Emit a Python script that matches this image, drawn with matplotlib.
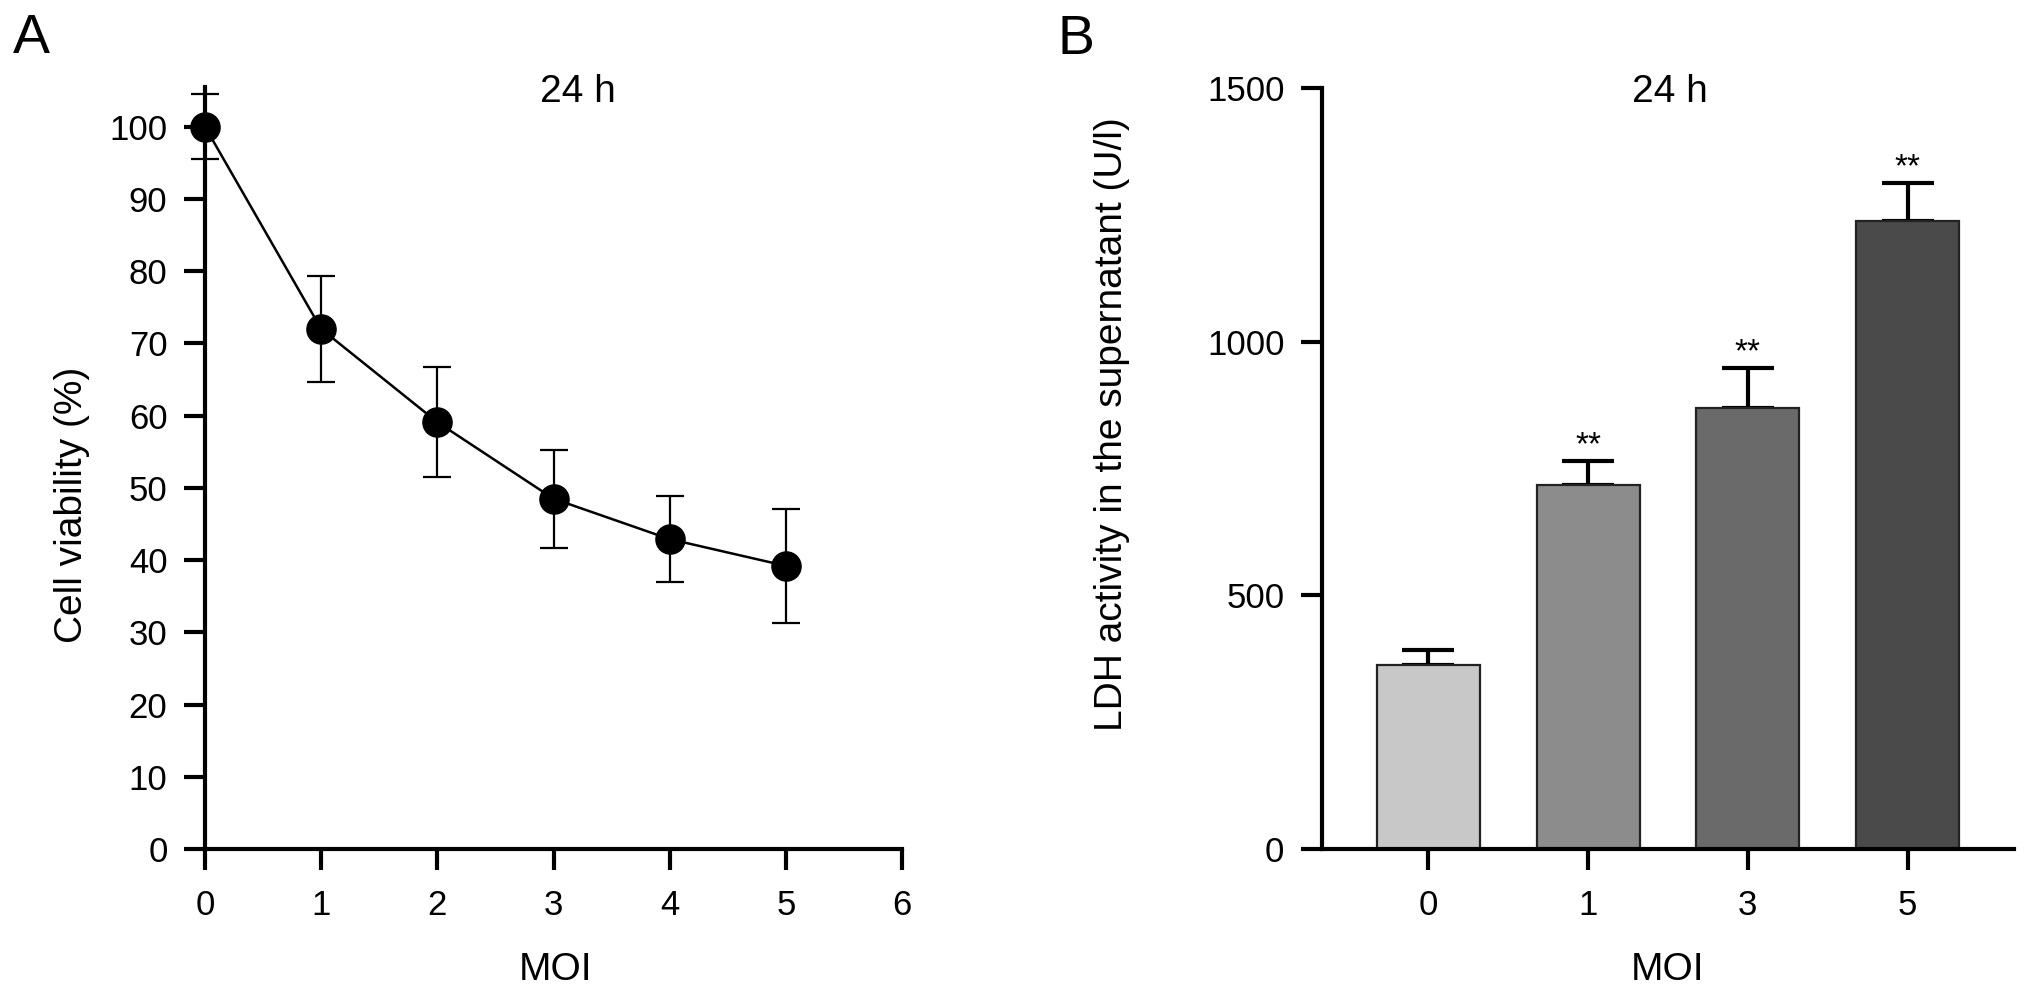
import matplotlib
matplotlib.use("Agg")
import matplotlib.pyplot as plt

plt.rcParams['font.family'] = ['Liberation Sans', 'DejaVu Sans']

# panel A: cell viability vs MOI
moi_a = [0, 1, 2, 3, 4, 5]
viability = [100.0, 72.0, 59.1, 48.5, 42.9, 39.2]
viability_err = [4.5, 7.4, 7.6, 6.8, 6.0, 7.9]

# panel B: LDH activity
moi_b = ['0', '1', '3', '5']
ldh = [362, 717, 869, 1238]
ldh_err = [30, 47, 79, 74]
bar_colors = ['#c8c8c8', '#8c8c8c', '#6a6a6a', '#4a4a4a']
stars = ['', '**', '**', '**']

W, H = 2032, 996
fig = plt.figure(figsize=(W / 100, H / 100), dpi=100)

FS = 25
LFS = 28
SPINE = 3.0


def style_axes(ax):
    for s in ['top', 'right']:
        ax.spines[s].set_visible(False)
    for s in ['left', 'bottom']:
        ax.spines[s].set_linewidth(SPINE)
    ax.tick_params(direction='out', length=15, width=SPINE, labelsize=FS, pad=12)
    ax.tick_params(axis='x', pad=14)


# ---- A ----
axA = fig.add_axes([205 / W, 1 - 849 / H, (902 - 205) / W, (849 - 87) / H])
axA.errorbar(moi_a, viability, yerr=viability_err, color='black', lw=1.8,
             marker='o', markersize=21, elinewidth=1.6, capsize=10, capthick=1.6,
             clip_on=False, zorder=3)
axA.set_xlim(0, 6)
axA.set_ylim(0, 105.5)
axA.set_xticks(range(0, 7))
axA.set_yticks(range(0, 101, 10))
style_axes(axA)

# ---- B ----
axB = fig.add_axes([1322 / W, 1 - 849 / H, (2014 - 1322) / W, (849 - 88) / H])
xb = range(len(moi_b))
axB.bar(xb, ldh, width=0.645, color=bar_colors, edgecolor='#222222', linewidth=1.6, zorder=2)
axB.errorbar(xb, ldh, yerr=[[0] * len(ldh), ldh_err], fmt='none', ecolor='black',
             elinewidth=3, capsize=18.5, capthick=3, zorder=1)
for i, s in enumerate(stars):
    if s:
        axB.annotate(s, (i, ldh[i] + ldh_err[i]), xytext=(0, 5), textcoords='offset points',
                     ha='center', va='baseline', fontsize=24)
axB.set_xlim(-0.667, 3.667)
axB.set_ylim(0, 1500)
axB.set_xticks(list(xb))
axB.set_xticklabels(moi_b)
axB.set_yticks([0, 500, 1000, 1500])
style_axes(axB)

# titles, labels
fig.text(578 / W, 1 - 92 / H, '24 h', ha='center', va='center', fontsize=LFS)
fig.text(1670 / W, 1 - 92 / H, '24 h', ha='center', va='center', fontsize=LFS)
fig.text(72 / W, 1 - 505 / H, 'Cell viability (%)', rotation=90, ha='center', va='center', fontsize=LFS)
fig.text(1112 / W, 1 - 424 / H, 'LDH activity in the supernatant (U/l)', rotation=90,
         ha='center', va='center', fontsize=LFS)
fig.text(555 / W, 1 - 970 / H, 'MOI', ha='center', va='center', fontsize=LFS)
fig.text(1668 / W, 1 - 970 / H, 'MOI', ha='center', va='center', fontsize=LFS)
fig.text(13 / W, 1 - 53 / H, 'A', ha='left', va='baseline', fontsize=40)
fig.text(1057 / W, 1 - 54 / H, 'B', ha='left', va='baseline', fontsize=40)

fig.savefig('out.png', dpi=100)
